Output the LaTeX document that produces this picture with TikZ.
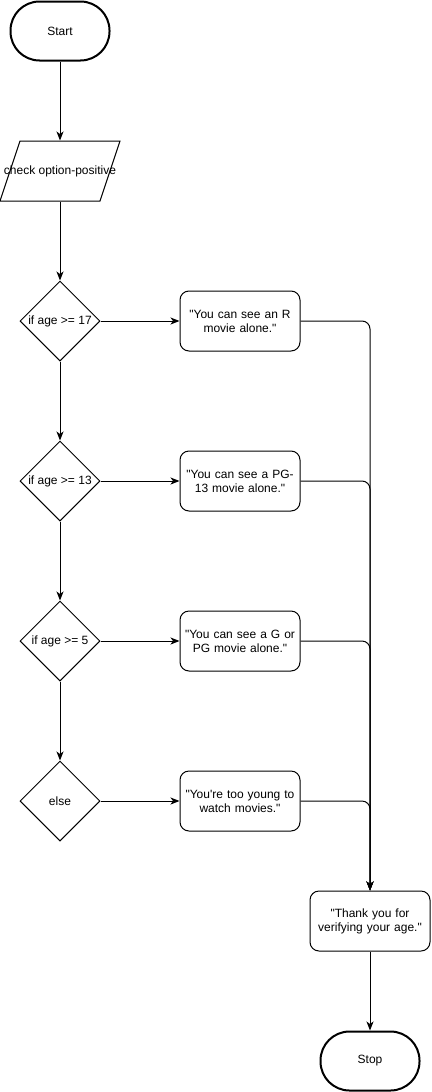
\documentclass[tikz,border=0pt]{standalone}
\usepackage{fontspec}
\setmainfont{Liberation Sans}[Ligatures=TeXOff]
\usetikzlibrary{shapes.geometric,arrows.meta}
\begin{document}
\begin{tikzpicture}[x=1pt,y=-1pt,
  every node/.style={font=\fontsize{12}{14}\selectfont, align=center, line width=1pt},
  term/.style={draw, line width=2pt, rounded corners=29pt, minimum width=99pt, minimum height=59pt, inner sep=0pt},
  io/.style={minimum width=120pt, minimum height=60pt, inner sep=0pt},
  dec/.style={draw, diamond, minimum width=80pt, minimum height=80pt, inner sep=0pt, aspect=1},
  msg/.style={draw, rounded corners=9pt, minimum width=120pt, minimum height=60pt, text width=112pt, inner sep=0pt},
  arr/.style={line width=1pt, -{Stealth[length=9pt,width=7pt,inset=2.5pt]}},
]
\useasboundingbox (0,0) rectangle (431,1092);
\node[term] (start) at (60,31) {Start};
\draw[line width=1pt] (20,141) -- (120,141) -- (100,201) -- (0,201) -- cycle;
\node[io] (chk) at (60,171) {check option-positive};
\node[dec] (d1) at (60,321) {if age >= 17};
\node[dec] (d2) at (60,481) {if age >= 13};
\node[dec] (d3) at (60,641) {if age >= 5};
\node[dec] (d4) at (60,801) {else};
\node[msg] (m1) at (240,321) {"You can see an R\\movie alone."};
\node[msg] (m2) at (240,481) {"You can see a PG-\\13 movie alone."};
\node[msg] (m3) at (240,641) {"You can see a G or\\PG movie alone."};
\node[msg] (m4) at (240,801) {"You're too young to\\watch movies."};
\node[msg] (ty) at (370,921) {"Thank you for\\verifying your age."};
\node[term] (stop) at (370,1061) {Stop};
\draw[arr] (start) -- (chk);
\draw[arr] (chk) -- (d1);
\draw[arr] (d1) -- (d2);
\draw[arr] (d2) -- (d3);
\draw[arr] (d3) -- (d4);
\draw[arr] (d1) -- (m1);
\draw[arr] (d2) -- (m2);
\draw[arr] (d3) -- (m3);
\draw[arr] (d4) -- (m4);
\draw[arr, rounded corners=8pt] (m1.east) -| (ty.north);
\draw[arr, rounded corners=8pt] (m2.east) -| (ty.north);
\draw[arr, rounded corners=8pt] (m3.east) -| (ty.north);
\draw[arr, rounded corners=8pt] (m4.east) -| (ty.north);
\draw[arr] (ty) -- (stop);
\end{tikzpicture}
\end{document}
